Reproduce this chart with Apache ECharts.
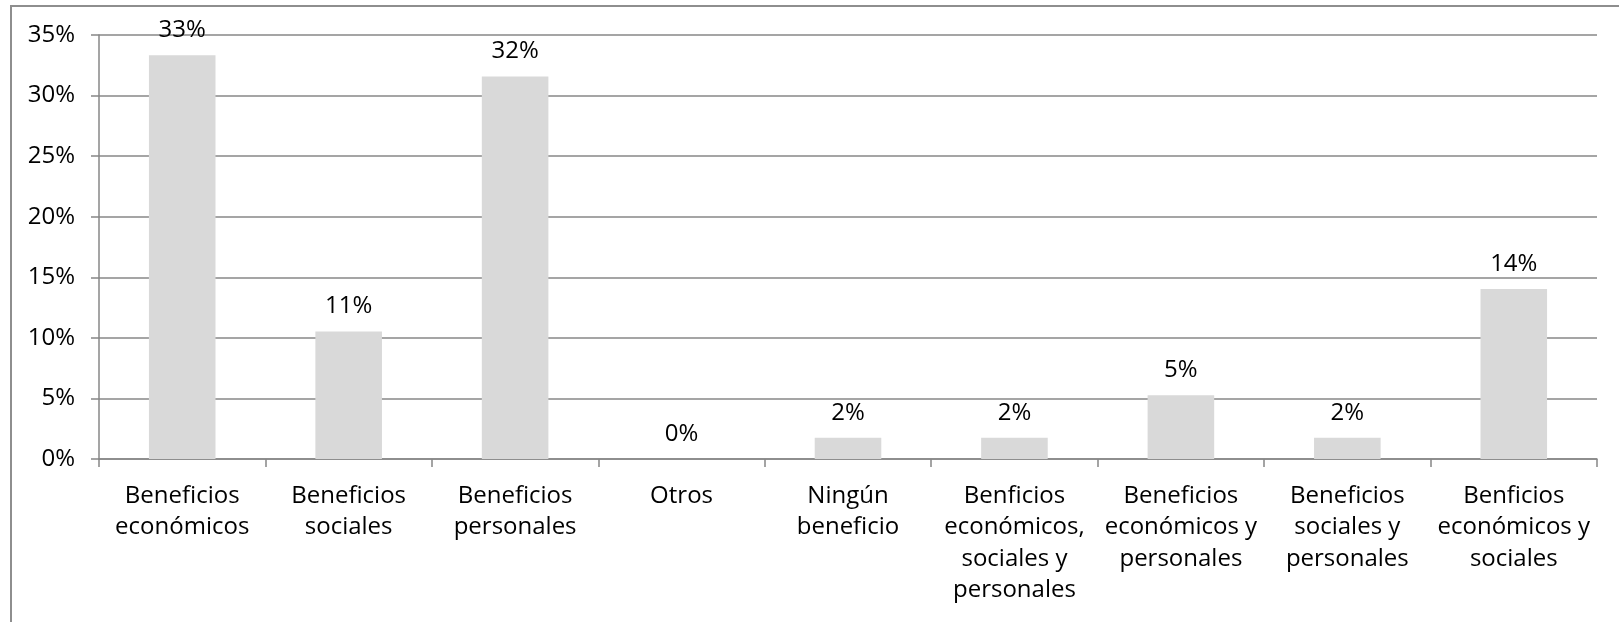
<!DOCTYPE html>
<html lang="es">
<head>
  <meta charset="UTF-8">
  <title>Beneficios</title>
  <script src="https://cdn.jsdelivr.net/npm/echarts@6/dist/echarts.min.js"></script>
  <style>
    html, body { margin: 0; padding: 0; overflow: hidden; background: #fff; }
    #frame {
      position: absolute; left: 10px; top: 5px;
      width: 1700px; height: 700px;
      border: 2px solid #8e8e8e; box-sizing: border-box;
    }
    #main { position: absolute; left: 0; top: 0; width: 1619px; height: 622px; }
  </style>
</head>
<body>
  <div id="frame"></div>
  <div id="main"></div>

  <script>
    // Data (percent of answers)
    const categories = [
      'Beneficios\neconómicos',
      'Beneficios\nsociales',
      'Beneficios\npersonales',
      'Otros',
      'Ningún\nbeneficio',
      'Benficios\neconómicos,\nsociales y\npersonales',
      'Beneficios\neconómicos y\npersonales',
      'Beneficios\nsociales y\npersonales',
      'Benficios\neconómicos y\nsociales'
    ];
    const values = [33.33, 10.53, 31.58, 0, 1.75, 1.75, 5.26, 1.75, 14.04];
    const yTicks = [0, 5, 10, 15, 20, 25, 30, 35];

    const font = '"Open Sans", "Noto Sans", sans-serif';
    const lineColor = '#878787';

    const myChart = echarts.init(document.getElementById('main'));

    myChart.setOption({
      animation: false,
      textStyle: { fontFamily: font },
      grid: { left: 99, right: 22, top: 35, bottom: 163 },
      xAxis: {
        type: 'category',
        data: categories,
        axisLine: { lineStyle: { color: lineColor, width: 1.5 } },
        axisTick: { show: true, length: 8, lineStyle: { color: lineColor, width: 1.5 } },
        axisLabel: {
          interval: 0,
          margin: 21,
          color: '#000',
          fontSize: 24,
          fontFamily: font,
          lineHeight: 31.5
        }
      },
      yAxis: {
        type: 'value',
        min: yTicks[0],
        max: yTicks[yTicks.length - 1],
        interval: 5,
        axisLine: { show: true, lineStyle: { color: lineColor, width: 1.5 } },
        axisTick: { show: true, length: 8, lineStyle: { color: lineColor, width: 1.5 } },
        splitLine: { lineStyle: { color: lineColor, width: 1.5 } },
        axisLabel: {
          margin: 24,
          color: '#000',
          fontSize: 24,
          fontFamily: font,
          formatter: '{value}%'
        }
      },
      series: [{
        type: 'bar',
        data: values,
        barWidth: '40%',
        itemStyle: { color: '#d9d9d9' },
        label: {
          show: true,
          position: 'top',
          distance: 13,
          color: '#000',
          fontSize: 24,
          fontFamily: font,
          formatter: p => Math.round(p.value) + '%'
        }
      }]
    });
  </script>
</body>
</html>
